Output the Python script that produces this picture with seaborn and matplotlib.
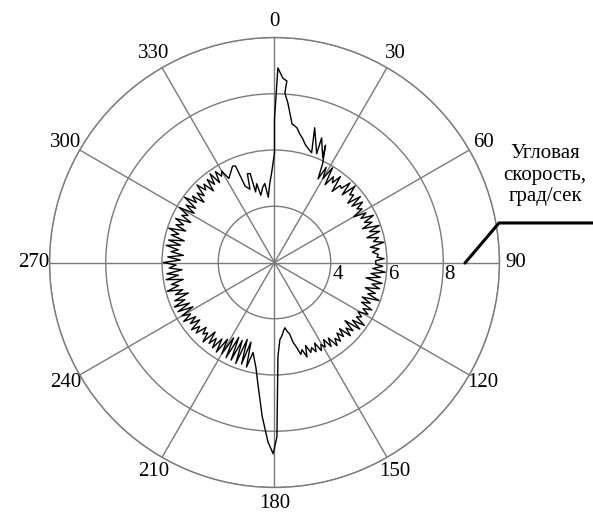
import numpy as np
import pandas as pd
import matplotlib
matplotlib.use("Agg")
import matplotlib.pyplot as plt
import seaborn as sns

sns.set_style("white")
plt.rcParams["font.family"] = ["Liberation Serif", "DejaVu Serif"]

# angle (degrees, clockwise from top) and angular speed (deg/s)
theta_deg = [
    0.0, 0.0, 1.0, 2.6, 3.9, 3.5, 4.8, 6.0, 7.2, 9.4, 11.1, 13.0, 14.3, 16.0, 18.7, 16.6, 21.2, 20.7, 24.7, 23.5, 26.0, 27.5,
    28.5, 30.0, 31.5, 33.0, 34.5, 36.0, 37.5, 39.0, 40.5, 42.0, 43.5, 45.0, 46.5, 48.0, 49.5, 51.0, 52.5, 54.0, 55.5, 57.0,
    58.5, 60.0, 61.5, 63.0, 64.5, 66.0, 67.5, 69.0, 70.5, 72.0, 73.5, 75.0, 76.5, 78.0, 79.5, 81.0, 82.5, 84.0, 85.5, 87.0,
    88.0, 89.0, 91.0, 92.0, 93.5,
    95.0, 96.5, 98.0, 99.5, 101.0, 102.5, 104.0, 105.5, 107.0, 108.5, 110.0, 111.5, 113.0, 114.5, 116.0, 117.5, 119.0,
    120.5, 122.0, 123.5, 125.0, 126.5, 128.0, 129.5, 131.0, 132.5, 134.0, 135.5, 137.0, 138.5, 140.0, 141.5, 143.0, 144.5,
    146.0, 147.5, 149.0, 150.5, 152.0, 153.5, 155.0, 156.5, 158.0, 159.5, 161.0, 162.5, 164.0, 165.5,
    167.0, 168.0, 169.5, 170.9, 172.5, 174.0, 176.0, 177.9, 179.2, 180.4, 182.1, 184.6, 187.5, 190.0, 193.4,
    195.0, 196.5, 198.0, 199.5, 201.0, 202.5, 204.0, 205.5, 207.0, 208.5, 210.0, 211.5, 213.0, 214.5,
    216.0, 217.5, 219.0, 220.5, 222.0, 223.5, 225.0, 226.5, 228.0, 229.5, 231.0, 232.5, 234.0, 235.5, 237.0, 238.5,
    240.0, 241.5, 243.0, 244.5, 246.0, 247.5, 249.0, 250.5, 252.0, 253.5, 255.0, 256.5, 258.0, 259.5, 261.0, 262.5,
    264.0, 265.5, 267.0, 268.5, 270.0, 271.5, 273.0, 274.5, 276.0, 277.5, 279.0, 280.5, 282.0, 283.5, 285.0, 286.5,
    288.0, 289.5, 291.0, 292.5, 294.0, 295.5, 297.0, 298.5, 300.0, 301.5, 303.0, 304.5, 306.0, 307.5, 309.0, 310.5,
    312.0, 313.5, 315.0, 316.5, 318.0, 319.5, 321.0, 322.5, 324.0, 325.5, 327.0, 328.5, 330.0, 331.5, 333.4,
    336.5, 338.0, 339.0, 341.5, 343.0, 344.7, 345.0, 347.3, 348.5, 351.0, 353.0, 354.6, 356.5, 358.2, 360.0,
]
speed = [
    5.9, 7.1, 8.92, 8.56, 8.47, 8.04, 7.69, 7.3, 6.97, 6.86, 6.66, 6.5, 6.36, 6.25, 6.12, 7.0, 6.15, 6.74, 6.1, 6.55, 5.9, 5.35,
    5.85, 5.45, 5.95, 5.3, 5.7, 5.5, 5.85, 5.25, 5.6, 5.55, 5.9, 5.4, 5.95, 5.6, 5.7, 5.35, 5.85, 5.4, 5.8, 5.5,
    5.65, 5.25, 5.7, 5.45, 5.9, 5.5, 5.75, 5.35, 5.95, 5.55, 5.9, 5.4, 5.8, 5.6, 5.95, 5.45, 5.75, 5.5, 5.7, 5.65,
    5.9, 5.6, 5.6, 5.85, 5.5,
    5.95, 5.45, 5.8, 5.3, 5.9, 5.55, 5.85, 5.35, 5.75, 5.5, 5.95, 5.35, 5.7, 5.4, 5.85, 5.55, 5.8,
    5.45, 5.65, 5.5, 5.9, 5.45, 5.85, 5.25, 5.7, 5.45, 5.75, 5.3, 5.6, 5.35, 5.65, 5.45, 5.7, 5.3,
    5.6, 5.25, 5.5, 5.35, 5.55, 5.2, 5.5, 5.3, 5.45, 5.15, 5.55, 5.25, 5.4, 5.1,
    4.9, 4.6, 4.5, 4.35, 4.45, 4.6, 4.75, 5.34, 8.2, 8.8, 8.38, 7.48, 6.44, 5.8, 5.29,
    5.85, 4.95, 5.8, 4.9, 5.85, 5.0, 5.8, 4.95, 5.8, 5.05, 5.75, 5.2, 5.8, 5.3,
    5.75, 5.4, 5.7, 5.25, 5.8, 5.45, 5.6, 5.35, 5.75, 5.5, 5.8, 5.35, 5.7, 5.4, 5.85, 5.5,
    5.8, 5.3, 5.85, 5.35, 5.9, 5.45, 5.8, 5.25, 5.7, 5.4, 5.95, 5.5, 5.75, 5.3, 5.9, 5.45,
    5.85, 5.3, 5.75, 5.5, 5.95, 5.35, 5.8, 5.25, 5.7, 5.45, 5.9, 5.4, 5.85, 5.3, 5.8, 5.55,
    5.95, 5.35, 5.75, 5.5, 5.85, 5.3, 5.7, 5.5, 5.9, 5.35, 5.75, 5.4, 5.95, 5.5, 5.75, 5.3,
    5.7, 5.45, 5.9, 5.55, 5.75, 5.35, 5.8, 5.5, 5.9, 5.45, 5.85, 5.6, 5.75, 5.4, 5.52,
    5.74, 5.7, 4.9, 4.75, 5.3, 5.28, 4.6, 4.87, 4.44, 4.7, 4.83, 4.33, 4.8, 5.2, 5.9,
]

angle_labels = ["0", "30", "60", "90", "120", "150", "180", "210", "240", "270", "300", "330"]
radial_ticks = [4, 6, 8, 10]
radial_labels = ["4", "6", "8"]
annotation_text = "Угловая\nскорость,\nград/сек"

df = pd.DataFrame({"theta": np.deg2rad(theta_deg), "speed": speed})

fig = plt.figure(figsize=(5.93, 5.12), dpi=100)
ax = fig.add_axes([0.0835, 0.0478, 0.7588, 0.879], projection="polar")
ax.set_theta_zero_location("N")
ax.set_theta_direction(-1)

sns.lineplot(data=df, x="theta", y="speed", sort=False, estimator=None,
             color="black", linewidth=1.0, ax=ax)

ax.set_rlim(2, 10)
ax.set_rticks(radial_ticks)
ax.set_yticklabels([])
ax.set_xticks(np.deg2rad(np.arange(0, 360, 30)))
ax.set_xticklabels(angle_labels, fontsize=15, color="black")
ax.tick_params(axis="x", pad=1)
ax.grid(True, color="#7a7a7a", linewidth=1.0)
ax.spines["polar"].set_color("#7a7a7a")
ax.spines["polar"].set_linewidth(1.0)
ax.set_xlabel("")
ax.set_ylabel("")

for lab, rv in zip(radial_labels, radial_ticks[:3]):
    ax.annotate(lab, xy=(np.pi / 2, rv), xytext=(1, -2), textcoords="offset points",
                ha="left", va="top", fontsize=15, color="black")

fig.text(0.919, 0.658, annotation_text, ha="center", va="center", fontsize=15,
         linespacing=1.2, color="black")
fig.add_artist(plt.Line2D([0.7841, 0.8415, 1.0], [0.4863, 0.5645, 0.5645],
                          transform=fig.transFigure, color="black", linewidth=2.2))

fig.savefig("out.png", dpi=100)
